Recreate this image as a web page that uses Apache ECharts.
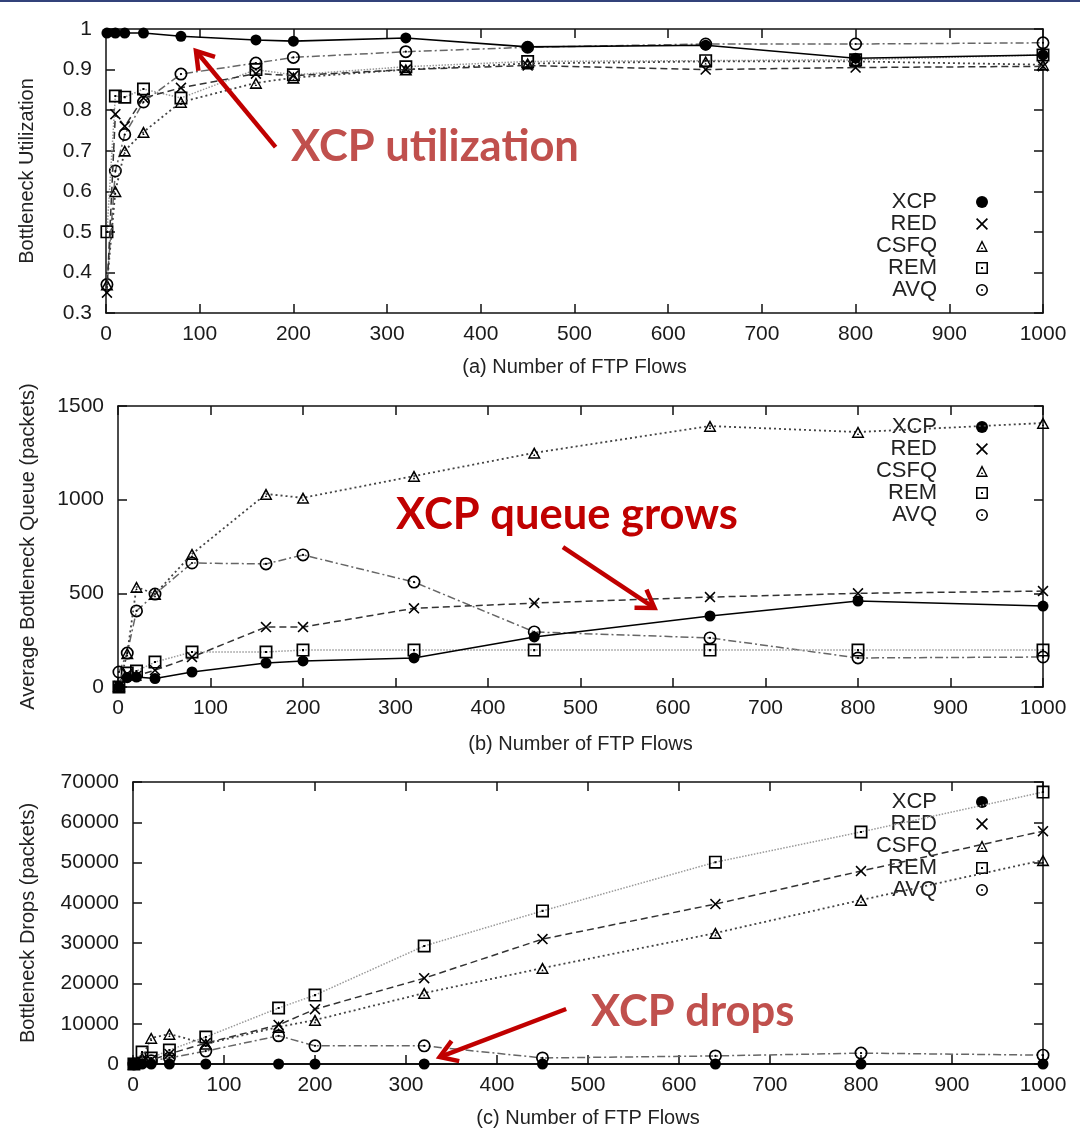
<!DOCTYPE html>
<html><head><meta charset="utf-8">
<script src="https://cdn.jsdelivr.net/npm/echarts@6/dist/echarts.min.js"></script>
<style>html,body{margin:0;padding:0;background:#fff}#c{width:1080px;height:1132px}</style>
</head><body><div id="c"></div>
<script>
// ---- data ----
const flows = [1, 10, 20, 40, 80, 160, 200, 320, 450, 640, 800, 1000];
const seriesNames = ['XCP', 'RED', 'CSFQ', 'REM', 'AVQ'];

const utilXCP  = [0.99, 0.99, 0.99, 0.99, 0.982, 0.973, 0.97, 0.978, 0.956, 0.96, 0.928, 0.936];
const utilRED  = [0.35, 0.79, 0.76, 0.83, 0.855, 0.89, 0.885, 0.90, 0.91, 0.90, 0.905, 0.908];
const utilCSFQ = [0.37, 0.60, 0.70, 0.746, 0.82, 0.867, 0.88, 0.90, 0.915, 0.92, 0.92, 0.912];
const utilREM  = [0.50, 0.835, 0.832, 0.852, 0.83, 0.90, 0.887, 0.907, 0.92, 0.922, 0.924, 0.936];
const utilAVQ  = [0.37, 0.65, 0.74, 0.82, 0.889, 0.916, 0.93, 0.944, 0.955, 0.963, 0.963, 0.966];

const queueXCP  = [3, 50, 53, 45, 80, 128, 139, 155, 267, 379, 459, 432];
const queueRED  = [5, 70, 60, 90, 160, 320, 320, 420, 448, 480, 500, 512];
const queueCSFQ = [5, 180, 534, 496, 710, 1030, 1010, 1126, 1250, 1393, 1361, 1409];
const queueREM  = [0, 75, 85, 133, 187, 187, 197, 197, 197, 197, 197, 197];
const queueAVQ  = [80, 181, 406, 496, 662, 657, 705, 560, 294, 262, 155, 160];

const dropXCP  = [0, 0, 0, 0, 0, 0, 0, 0, 0, 0, 0, 0];
const dropRED  = [0, 500, 1000, 2500, 5200, 9700, 13600, 21300, 31000, 39700, 47900, 57800];
const dropCSFQ = [0, 1500, 6450, 7450, 5000, 9200, 10900, 17600, 23800, 32500, 40700, 50600];
const dropREM  = [0, 2980, 1490, 3470, 6700, 13900, 17100, 29300, 38000, 50100, 57600, 67500];
const dropAVQ  = [0, 500, 800, 1500, 3200, 7000, 4500, 4500, 1500, 2000, 2700, 2200];

const xTicks = {min: 0, max: 1000, interval: 100};
const yTicks = [
  {min: 0.3, max: 1, interval: 0.1},
  {min: 0, max: 1500, interval: 500},
  {min: 0, max: 70000, interval: 10000}
];
const xAxisNames = ['(a) Number of FTP Flows', '(b) Number of FTP Flows', '(c) Number of FTP Flows'];
const yAxisNames = ['Bottleneck Utilization', 'Average Bottleneck Queue (packets)', 'Bottleneck Drops (packets)'];
const panels = [
  [utilXCP, utilRED, utilCSFQ, utilREM, utilAVQ],
  [queueXCP, queueRED, queueCSFQ, queueREM, queueAVQ],
  [dropXCP, dropRED, dropCSFQ, dropREM, dropAVQ]
];
const notes = ['XCP utilization', 'XCP queue grows', 'XCP drops'];
// arrow tail / tip in data coordinates of each panel
const arrowFrom = [[181, 0.709], [481, 747], [476, 13650]];
const arrowTo   = [[96, 0.946], [580, 422], [337, 1740]];

// ---- styles ----
const FONT = '"Liberation Sans", Arial, Helvetica, sans-serif';
const grids = [
  {left: 106, top: 29, width: 937, height: 284},
  {left: 118, top: 406, width: 925, height: 281},
  {left: 133, top: 782, width: 910, height: 282}
];
const yNameGap = [69, 80, 95];
const xNameGap = [44, 47, 44];
const legendTop = [191, 416, 791];
const noteStyle = [
  {x: 291, y: 147, fill: '#C0504D'},
  {x: 396, y: 515, fill: '#C00000'},
  {x: 591, y: 1012, fill: '#C0504D'}
];
const SYM = {
  XCP: 'circle',
  RED: 'path://M0 2 L2 0 L10 8 L18 0 L20 2 L12 10 L20 18 L18 20 L10 12 L2 20 L0 18 L8 10 Z',
  CSFQ: 'path://M10 0 L20 18 L0 18 Z M10 5 L3.6 15.6 L16.4 15.6 Z M10 10.5 L11.8 13.6 L8.2 13.6 Z',
  REM: 'path://M0 0 H20 V20 H0 Z M2.6 2.6 V17.4 H17.4 V2.6 Z M8.4 8.4 H11.6 V11.6 H8.4 Z',
  AVQ: 'path://M0 10 A10 10 0 1 1 20 10 A10 10 0 1 1 0 10 Z M2.6 10 A7.4 7.4 0 1 0 17.4 10 A7.4 7.4 0 1 0 2.6 10 Z M8.3 10 A1.7 1.7 0 1 1 11.7 10 A1.7 1.7 0 1 1 8.3 10 Z'
};
const SYMSIZE = {XCP: 11, RED: 11, CSFQ: [13, 12], REM: 13, AVQ: 13};
const LINE = {
  XCP: {color: '#000', width: 1.6, type: 'solid'},
  RED: {color: '#333', width: 1.5, type: [7, 4]},
  CSFQ: {color: '#444', width: 1.8, type: [2, 3]},
  REM: {color: '#999', width: 1.5, type: [1.5, 1.5]},
  AVQ: {color: '#666', width: 1.5, type: [8, 3, 2, 3]}
};

const axisLine = {show: true, onZero: false, lineStyle: {color: '#111', width: 1.5}};
const axisTick = {show: true, inside: true, length: 9, lineStyle: {color: '#111', width: 1.5}};
const plain = v => String(v);

const option = {
  animation: false,
  backgroundColor: '#fff',
  textStyle: {fontFamily: FONT},
  grid: grids,
  xAxis: [], yAxis: [], series: [], legend: [],
  graphic: [{type: 'rect', shape: {x: 0, y: 0, width: 1080, height: 2}, style: {fill: '#33427a'}}]
};

grids.forEach((g, i) => {
  option.xAxis.push({
    type: 'value', gridIndex: i, position: 'bottom', min: xTicks.min, max: xTicks.max, interval: xTicks.interval,
    axisLine, axisTick, splitLine: {show: false},
    axisLabel: {fontSize: 21, color: '#1a1a1a', margin: 11, fontFamily: FONT, formatter: plain},
    name: xAxisNames[i], nameLocation: 'middle', nameGap: xNameGap[i],
    nameTextStyle: {fontSize: 20, color: '#222', fontFamily: FONT}
  });
  option.xAxis.push({
    type: 'value', gridIndex: i, position: 'top', min: xTicks.min, max: xTicks.max, interval: xTicks.interval,
    axisLine, axisTick, splitLine: {show: false}, axisLabel: {show: false}
  });
  option.yAxis.push({
    type: 'value', gridIndex: i, position: 'left', min: yTicks[i].min, max: yTicks[i].max, interval: yTicks[i].interval,
    axisLine, axisTick, splitLine: {show: false},
    axisLabel: {fontSize: 21, color: '#1a1a1a', margin: 14, fontFamily: FONT, formatter: plain},
    name: yAxisNames[i], nameLocation: 'middle', nameGap: yNameGap[i], nameRotate: 90,
    nameTextStyle: {fontSize: 20, color: '#222', fontFamily: FONT}
  });
  option.yAxis.push({
    type: 'value', gridIndex: i, position: 'right', min: yTicks[i].min, max: yTicks[i].max, interval: yTicks[i].interval,
    axisLine, axisTick, splitLine: {show: false}, axisLabel: {show: false}
  });
  seriesNames.forEach((name, k) => {
    option.series.push({
      type: 'line', name: name, xAxisIndex: i * 2, yAxisIndex: i * 2,
      data: flows.map((x, j) => [x, panels[i][k][j]]),
      symbol: SYM[name], symbolSize: SYMSIZE[name],
      itemStyle: {color: '#000', borderWidth: 0},
      lineStyle: LINE[name],
      z: 10 - k, silent: true, clip: false
    });
  });
  option.legend.push({
    data: seriesNames, orient: 'vertical', align: 'right', right: 57, top: legendTop[i],
    itemWidth: 80, itemHeight: 15, itemGap: 0, padding: 0, selectedMode: false,
    textStyle: {fontSize: 22, color: '#222', lineHeight: 22, fontFamily: FONT},
    lineStyle: {color: 'rgba(0,0,0,0)'}
  });
});

const chart = echarts.init(document.getElementById('c'), null, {renderer: 'canvas'});
chart.setOption(option);

// annotations: arrows placed through the library's coordinate conversion
function arrow(p0, p1, color) {
  const dx = p1[0] - p0[0], dy = p1[1] - p0[1], L = Math.hypot(dx, dy);
  const ux = dx / L, uy = dy / L, len = 20, a = Math.PI / 5.5;
  const rot = (x, y, t) => [x * Math.cos(t) - y * Math.sin(t), x * Math.sin(t) + y * Math.cos(t)];
  const a1 = rot(-ux, -uy, a), a2 = rot(-ux, -uy, -a);
  return [
    {type: 'line', z: 100, silent: true, shape: {x1: p0[0], y1: p0[1], x2: p1[0] - ux * 2, y2: p1[1] - uy * 2},
      style: {stroke: color, lineWidth: 4.5}},
    {type: 'polyline', z: 100, silent: true,
      shape: {points: [[p1[0] + a1[0] * len, p1[1] + a1[1] * len], p1, [p1[0] + a2[0] * len, p1[1] + a2[1] * len]]},
      style: {stroke: color, lineWidth: 4.5, fill: null, lineJoin: 'miter'}}
  ];
}
const extra = [option.graphic[0]];
for (let i = 0; i < 3; i++) {
  const p0 = chart.convertToPixel({seriesIndex: i * 5}, arrowFrom[i]);
  const p1 = chart.convertToPixel({seriesIndex: i * 5}, arrowTo[i]);
  extra.push(...arrow(p0, p1, '#C00000'));
  extra.push({type: 'text', z: 100, silent: true,
    style: {x: noteStyle[i].x, y: noteStyle[i].y, text: notes[i], fill: noteStyle[i].fill,
      fontFamily: 'Lato, "Open Sans", sans-serif', fontWeight: 'bold', fontSize: 43.5, verticalAlign: 'middle'}});
}
chart.setOption({graphic: extra}, {replaceMerge: ['graphic']});
</script></body></html>
